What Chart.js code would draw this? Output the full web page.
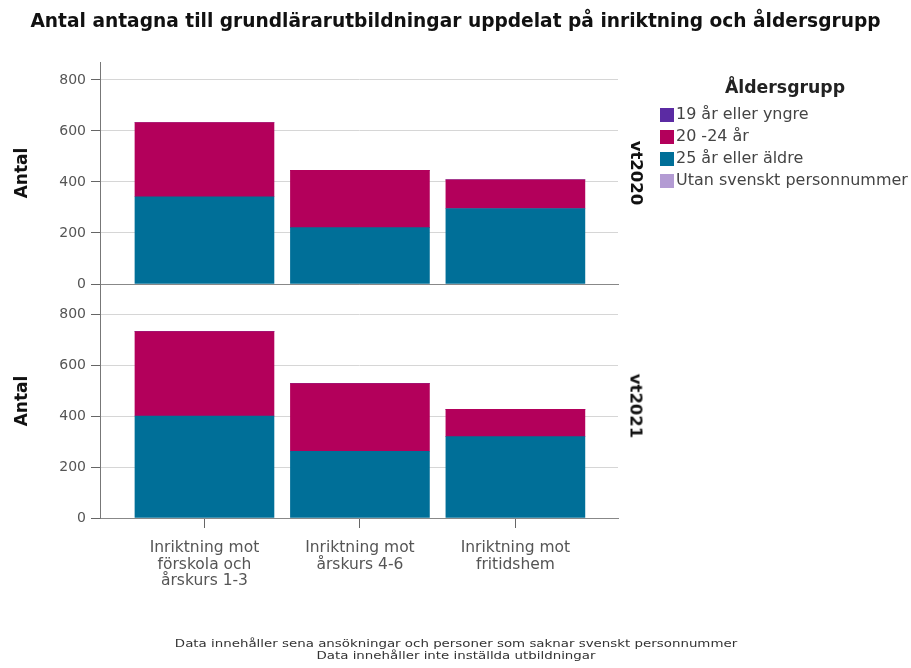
<!DOCTYPE html>
<html><head><meta charset="utf-8">
<script src="https://cdn.jsdelivr.net/npm/chart.js@4/dist/chart.umd.min.js"></script>
<style>
html,body{margin:0;padding:0;background:#fff;}
#wrap{position:relative;width:911px;height:668px;overflow:hidden;font-family:"DejaVu Sans",sans-serif;}
#wrap canvas{position:absolute;left:0;top:0;}
.title{position:absolute;left:50%;top:20px;transform:translate(-50%,-50%);font-weight:bold;font-size:18px;color:#111;white-space:nowrap;}
.lt{position:absolute;left:785px;top:87px;transform:translate(-50%,-50%);font-weight:bold;font-size:17px;color:#222;white-space:nowrap;}
.it{position:absolute;left:660px;height:20px;line-height:20px;white-space:nowrap;color:#444;}
.it .bx{position:absolute;left:0;top:4px;width:14px;height:14px;}
.it .tx{position:absolute;left:16px;top:0;font-size:15px;}
.panel{position:absolute;font-weight:bold;font-size:17px;color:#111;white-space:nowrap;}
.foot{position:absolute;left:50%;font-size:10.5px;line-height:12px;color:#333;white-space:nowrap;}
</style></head>
<body>
<div id="wrap">
  <canvas id="c1" width="911" height="668" style="width:911px;height:668px"></canvas>
  <canvas id="c2" width="911" height="668" style="width:911px;height:668px"></canvas>
</div>
<script>
// ---- data ----
const chartTitle = "Antal antagna till grundlärarutbildningar uppdelat på inriktning och åldersgrupp";
const categories = [["Inriktning mot","förskola och","årskurs 1-3"],["Inriktning mot","årskurs 4-6"],["Inriktning mot","fritidshem"]];
const years = ["vt2020","vt2021"];
const legendTitle = "Åldersgrupp";
const groups = ["19 år eller yngre","20 -24 år","25 år eller äldre","Utan svenskt personnummer"];
const groupColors = ["#5b2ba3","#b3005b","#006f98","#b39bd3"];
const vt2020_19 = [0,0,0];
const vt2020_20_24 = [291,224,112];
const vt2020_25 = [342,221,296];
const vt2020_utan = [0,0,0];
const vt2021_19 = [0,0,0];
const vt2021_20_24 = [331,265,107];
const vt2021_25 = [400,262,319];
const vt2021_utan = [0,0,0];
const yTicks = [0,200,400,600,800];
const yAxisTitle = "Antal";
const footnotes = ["Data innehåller sena ansökningar och personer som saknar svenskt personnummer","Data innehåller inte inställda utbildningar"];

// ---- text elements (HTML) ----
const wrap = document.getElementById('wrap');
function addText(cls, text, css){
  const d = document.createElement('div'); d.className = cls; d.textContent = text;
  Object.assign(d.style, css||{}); wrap.appendChild(d); return d;
}
function fitWidth(el, target){
  const w = el.offsetWidth; const fs = parseFloat(getComputedStyle(el).fontSize);
  el.style.fontSize = (fs*target/w).toFixed(2)+'px';
}
const t = addText('title', chartTitle); fitWidth(t, 850);
const lt = addText('lt', legendTitle); fitWidth(lt, 120);
const itemTexts = [];
groups.forEach((g,i)=>{
  const it = document.createElement('div'); it.className='it'; it.style.top=(104+i*22)+'px';
  const b = document.createElement('span'); b.className='bx'; b.style.background=groupColors[i];
  const tx = document.createElement('span'); tx.className='tx'; tx.textContent=g;
  it.appendChild(b); it.appendChild(tx); wrap.appendChild(it); itemTexts.push(tx);
});
{ const w = itemTexts[3].offsetWidth; const fs = 15*232/w;
  itemTexts.forEach(tx=>tx.style.fontSize=fs.toFixed(2)+'px'); }
const panelCenters = [[636,173],[636,406]];
years.forEach((y,i)=>{
  const p = addText('panel', y); fitWidth(p, 65);
  p.style.left = panelCenters[i][0]+'px'; p.style.top = panelCenters[i][1]+'px';
  p.style.transform = 'translate(-50%,-50%) rotate(90deg)';
});
const f1 = addText('foot', footnotes[0], {top:'643px'});
const f2 = addText('foot', footnotes[1], {top:'655px'});
const k = 562 / f1.offsetWidth;
[f1,f2].forEach(f=>{f.style.transform = 'translate(-50%,-50%) scaleX('+k.toFixed(3)+')';});

// ---- charts ----
const pts = arr => arr.map((v,i)=>({x:i,y:v}));
function datasets(v19,v2024,v25,vutan){
  const order = [[2,v25],[1,v2024],[0,v19],[3,vutan]]; // bottom first
  return order.map(([gi,arr])=>({label:groups[gi],data:pts(arr),backgroundColor:groupColors[gi],borderWidth:0,barThickness:139}));
}
const FONT = "'DejaVu Sans', sans-serif";
function yScale(max){
  return {
    type:'linear',min:0,max:max,stacked:true,
    afterBuildTicks:s=>{s.ticks=yTicks.map(v=>({value:v}));},
    afterFit:s=>{s.width=100;},
    ticks:{color:'#555',font:{family:FONT,size:14},padding:5},
    grid:{color:c=>(c.tick&&c.tick.value===0)?'#888':'#d6d6d6',lineWidth:1,tickColor:'#666',tickLength:9,drawTicks:true},
    border:{display:true,color:'#777',width:1},
    title:{display:true,text:yAxisTitle,color:'#111',font:{family:FONT,size:17,weight:'bold'},padding:{top:12,bottom:0}}
  };
}
function xScale(showLabels){
  return {
    type:'linear',min:-0.672,max:2.66,stacked:true,offset:false,
    afterBuildTicks:s=>{s.ticks=[0,1,2].map(v=>({value:v}));},
    afterFit:s=>{s.height=showLabels?80:0;},
    ticks:{display:showLabels,autoSkip:false,maxRotation:0,minRotation:0,color:'#555',font:{family:FONT,size:15.5,lineHeight:1.07},padding:12,callback:v=>categories[v]},
    grid:{offset:false,drawOnChartArea:false,drawTicks:showLabels,tickLength:10,tickColor:'#666'},
    border:{display:true,color:'#888',width:1}
  };
}
const common = {responsive:false,animation:false,devicePixelRatio:1,
  plugins:{legend:{display:false},tooltip:{enabled:false},title:{display:false}}};

new Chart(document.getElementById('c1'),{type:'bar',
  data:{datasets:datasets(vt2020_19,vt2020_20_24,vt2020_25,vt2020_utan)},
  options:Object.assign({},common,{layout:{padding:{left:0,right:293,top:62,bottom:384}},
    scales:{x:xScale(false),y:yScale(870)}})});
new Chart(document.getElementById('c2'),{type:'bar',
  data:{datasets:datasets(vt2021_19,vt2021_20_24,vt2021_25,vt2021_utan)},
  options:Object.assign({},common,{layout:{padding:{left:0,right:293,top:284,bottom:70}},
    scales:{x:xScale(true),y:yScale(918)}})});
</script>
</body></html>
